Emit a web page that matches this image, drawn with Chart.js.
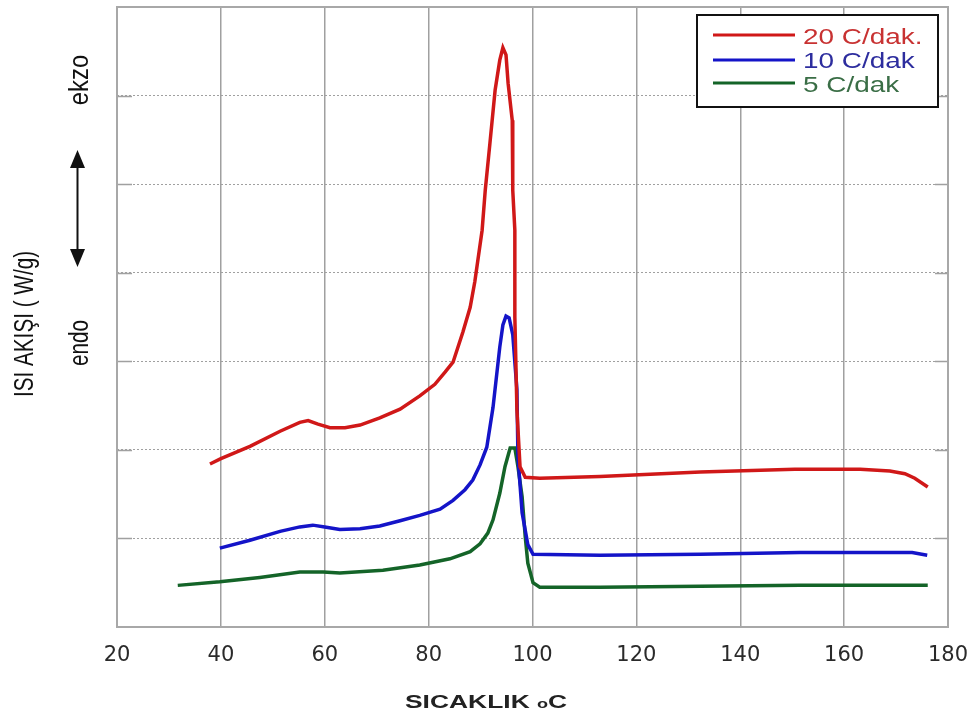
<!DOCTYPE html>
<html><head><meta charset="utf-8">
<script src="https://cdn.jsdelivr.net/npm/chart.js@4/dist/chart.umd.min.js"></script>
<style>html,body{margin:0;padding:0;background:#fff;overflow:hidden}</style>
</head><body>
<canvas id="c" width="979" height="718"></canvas>
<script>
// ---- data ----
const seriesNames = ['20 C/dak.', '10 C/dak', '5 C/dak'];

const temp20 = [37.9,40.0,45.6,51.4,55.2,56.8,58.7,61.0,63.9,66.8,70.6,74.5,78.3,81.2,83.2,84.7,86.6,88.0,88.9,90.3,90.9,91.8,92.8,93.7,94.3,94.9,95.3,96.1,96.2,96.6,96.6,97.0,97.6,98.6,101.4,113.0,132.3,150.5,163.1,168.8,171.7,173.6,176.1];
const heat20 = [1.84,1.90,2.04,2.21,2.31,2.33,2.29,2.25,2.25,2.28,2.36,2.46,2.61,2.74,2.88,2.99,3.33,3.61,3.90,4.48,4.93,5.46,6.06,6.40,6.54,6.46,6.14,5.72,4.93,4.48,3.50,2.45,1.81,1.69,1.68,1.70,1.75,1.78,1.78,1.76,1.73,1.68,1.58];

const temp10 = [39.8,45.6,51.4,55.2,57.7,60.0,62.9,66.8,70.6,74.5,78.3,82.2,84.7,87.0,88.5,89.9,91.2,92.4,93.7,94.3,94.9,95.5,96.2,97.0,97.2,98.0,99.1,100.1,113.0,132.3,151.5,173.1,176.0];
const heat10 = [0.89,0.98,1.08,1.13,1.15,1.13,1.10,1.11,1.14,1.20,1.26,1.33,1.43,1.55,1.66,1.83,2.03,2.48,3.16,3.41,3.51,3.49,3.30,2.68,1.92,1.29,0.93,0.82,0.81,0.82,0.84,0.84,0.81];

const temp5 = [31.7,39.8,47.5,55.2,59.7,62.9,71.2,78.3,84.1,88.0,89.9,91.4,92.4,93.7,94.7,95.7,96.6,97.2,98.0,98.6,99.1,100.1,101.4,113.0,132.3,151.5,176.1];
const heat5 = [0.47,0.51,0.56,0.62,0.62,0.61,0.64,0.70,0.77,0.85,0.94,1.06,1.21,1.51,1.81,2.02,2.02,1.81,1.47,1.02,0.72,0.50,0.45,0.45,0.46,0.47,0.47];

const xTicks = [20,40,60,80,100,120,140,160,180];
const yTitle = 'ISI AKIŞI ( W/g)';
const xTitleMain = 'SICAKLIK ';
const xTitleSup = 'o';
const xTitleEnd = 'C';
const exoLabel = 'ekzo';
const endoLabel = 'endo';

const lineColors = ['#d01818', '#1414c8', '#146428'];
const textColors = ['#c83232', '#2d2d9e', '#3a6e46'];

function pts(xs, ys) { return xs.map((x, i) => ({x: x, y: ys[i]})); }

const decor = {
  id: 'decor',
  beforeDatasetsDraw(chart) {
    const {ctx, chartArea: a} = chart;
    ctx.save();
    ctx.strokeStyle = '#a0a0a0';
    ctx.lineWidth = 1.5;
    for (let v = 1; v < 7; v++) {
      const y = Math.round(chart.scales.y.getPixelForValue(v)) + 0.5;
      ctx.beginPath();
      ctx.moveTo(a.left, y); ctx.lineTo(a.left + 15, y);
      ctx.moveTo(a.right - 13, y); ctx.lineTo(a.right, y);
      ctx.stroke();
    }
    ctx.strokeStyle = '#a8a8a8';
    ctx.lineWidth = 2;
    ctx.strokeRect(a.left, a.top, a.right - a.left, a.bottom - a.top);
    ctx.restore();
  },
  afterDraw(chart) {
    const {ctx} = chart;
    ctx.save();
    const lx = 697, ly = 15, lw = 241, lh = 92;
    ctx.fillStyle = '#fff';
    ctx.fillRect(lx, ly, lw, lh);
    ctx.strokeStyle = '#111';
    ctx.lineWidth = 2;
    ctx.strokeRect(lx, ly, lw, lh);
    const lineYs = [35, 60, 83];
    const baseYs = [44, 68, 92];
    chart.data.datasets.forEach((ds, i) => {
      ctx.strokeStyle = ds.borderColor;
      ctx.lineWidth = 3;
      ctx.beginPath();
      ctx.moveTo(713, lineYs[i]); ctx.lineTo(795, lineYs[i]);
      ctx.stroke();
      ctx.save();
      ctx.translate(803, baseYs[i]);
      ctx.scale(1.27, 1);
      ctx.font = '22px "Liberation Sans", Arial, sans-serif';
      ctx.fillStyle = textColors[i];
      ctx.textAlign = 'left';
      ctx.textBaseline = 'alphabetic';
      ctx.fillText(ds.label, 0, 0);
      ctx.restore();
    });

    ctx.save();
    ctx.translate(405, 708);
    ctx.scale(1.39, 1);
    ctx.fillStyle = '#222';
    ctx.textBaseline = 'alphabetic';
    ctx.textAlign = 'left';
    ctx.font = 'bold 19px "Liberation Sans", Arial, sans-serif';
    ctx.fillText(xTitleMain, 0, 0);
    let w = ctx.measureText(xTitleMain).width;
    ctx.font = 'bold 13px "Liberation Sans", Arial, sans-serif';
    ctx.fillText(xTitleSup, w, 0);
    w += ctx.measureText(xTitleSup).width;
    ctx.font = 'bold 19px "Liberation Sans", Arial, sans-serif';
    ctx.fillText(xTitleEnd, w, 0);
    ctx.restore();

    function vtext(txt, x, y, size, sx) {
      ctx.save();
      ctx.translate(x, y);
      ctx.rotate(-Math.PI / 2);
      ctx.scale(sx, 1);
      ctx.font = size + 'px "Liberation Sans", Arial, sans-serif';
      ctx.fillStyle = '#111';
      ctx.textAlign = 'center';
      ctx.textBaseline = 'alphabetic';
      ctx.fillText(txt, 0, 0);
      ctx.restore();
    }
    vtext(yTitle, 33, 324, 28, 0.74);
    vtext(exoLabel, 88, 80, 28, 0.85);
    vtext(endoLabel, 88, 343, 28, 0.74);

    ctx.strokeStyle = '#111';
    ctx.fillStyle = '#111';
    ctx.lineWidth = 2;
    ctx.beginPath();
    ctx.moveTo(77.5, 160); ctx.lineTo(77.5, 258);
    ctx.stroke();
    ctx.beginPath();
    ctx.moveTo(77.5, 150); ctx.lineTo(70, 168); ctx.lineTo(85, 168); ctx.closePath(); ctx.fill();
    ctx.beginPath();
    ctx.moveTo(77.5, 267); ctx.lineTo(70, 249); ctx.lineTo(85, 249); ctx.closePath(); ctx.fill();
    ctx.restore();
  }
};

new Chart(document.getElementById('c'), {
  type: 'scatter',
  data: {
    datasets: [
      {label: seriesNames[0], data: pts(temp20, heat20), borderColor: lineColors[0]},
      {label: seriesNames[1], data: pts(temp10, heat10), borderColor: lineColors[1]},
      {label: seriesNames[2], data: pts(temp5, heat5), borderColor: lineColors[2]}
    ].map(d => Object.assign(d, {showLine: true, pointRadius: 0, borderWidth: 3.5, tension: 0, fill: false, backgroundColor: d.borderColor}))
  },
  options: {
    responsive: false,
    animation: false,
    layout: {padding: {top: 7, right: 31, left: 0, bottom: 0}},
    plugins: {legend: {display: false}, tooltip: {enabled: false}},
    scales: {
      x: {
        type: 'linear', min: 20, max: 180,
        afterBuildTicks: s => { s.ticks = xTicks.map(v => ({value: v})); },
        afterFit: s => { s.height = 91; s.paddingLeft = 0; s.paddingRight = 0; },
        grid: {color: '#a0a0a0', lineWidth: 1.5, drawTicks: false},
        border: {display: false},
        ticks: {padding: 16, color: '#2a2a2a', font: {family: 'DejaVu Sans', size: 21}, maxRotation: 0, autoSkip: false}
      },
      y: {
        type: 'linear', min: 0, max: 7,
        ticks: {display: false, stepSize: 1},
        afterFit: s => { s.width = 117; s.paddingTop = 0; s.paddingBottom = 0; },
        grid: {color: '#a0a0a0', lineWidth: 1, drawTicks: false},
        border: {display: false, dash: [2, 2]}
      }
    }
  },
  plugins: [decor]
});
</script>
</body></html>
